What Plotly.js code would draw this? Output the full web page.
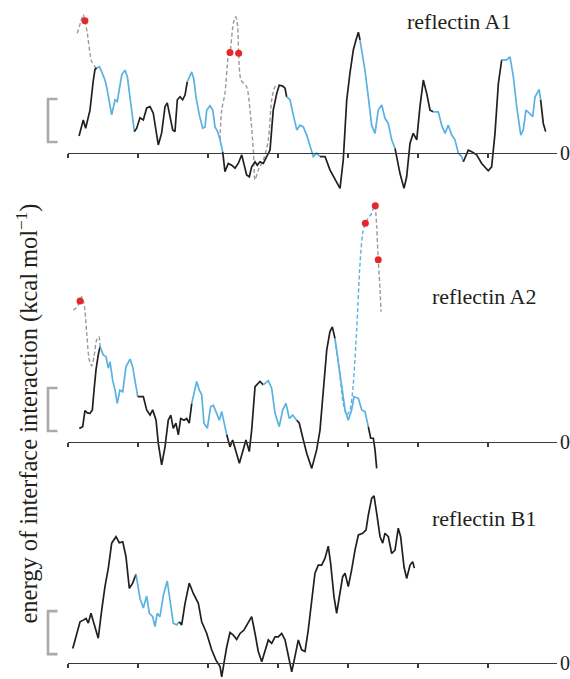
<!DOCTYPE html>
<html><head><meta charset="utf-8">
<script src="https://cdn.plot.ly/plotly-3.0.1.min.js"></script>
<style>html,body{margin:0;padding:0;background:#fff;}#chart{width:570px;height:679px;}</style>
</head><body><div id="chart"></div>
<script>
// ---- data (x: residue position, y: interface interaction energy, kcal/mol) ----
const panelNames = ["reflectin A1", "reflectin A2", "reflectin B1"];
const xTicks = [0, 50, 100, 150, 200, 250, 300];
const scaleBar = 10; // kcal/mol
const scaleBarBase = [2.5, 2.5, 2.0];

const a1X = [7.9,10.9,12.6,15.7,18.1,19.3,20.5,22.4,24.1,26.4,27.6,31.2,33.6,35.2,38.4,40.7,42.4,44.3,47.4,49.1,51.4,53.8,56.2,58.6,60.9,64.5,66.9,69.3,70.9,72.9,74.8,76.4,78.1,80,81.9,83.6,85.2,88.4,90,91.4,93.8,96.2,97.9,99.1,101.4,103.4,105,106.9,108.6,110.5,112.1,114.5,116.9,119.3,121.6,124.1,125.7,127.6,129.5,131.2,133.6,135.2,137.1,139.5,141.9,144.3,146.6,149.1,150.9,153.4,155,156.2,158.6,160.9,163.4,165.7,168.1,170.5,172.9,175.2,177.6,180,183.6,187.1,190.7,194.3,196.6,199.1,201.4,203.8,205.7,207.4,208.6,212.1,214.5,216.9,219.3,221.6,224.1,226.4,228.8,231.2,233.6,234.8,237.1,240,241.9,244.3,246.6,249.1,251.4,253.8,256.2,258.6,260.9,264.5,266.9,269.3,271.6,274.1,276.4,278.8,281.2,282.4,285.9,288.4,291.9,295.5,297.9,300.2,302.6,305,307.4,309.8,313.4,315.7,318.1,320.5,323.4,325.2,327.1,329.5,331.9,333.6,336.6,337.6,339.5,341.2];
const a1Y = [3.9,7.6,5.7,9.9,16.9,19.4,19.7,20.0,18.8,16.9,15.3,8.8,12.3,11.9,18.1,19.2,17.7,12.3,4.9,5.7,8.1,7.6,10.4,10.7,9.2,1.8,4.6,10.7,11.6,8.4,5.3,4.9,12.3,13.0,12.3,13.4,16.5,18.8,16.9,13.0,8.8,5.7,6.0,9.9,10.9,9.9,6.0,4.9,3.0,0.2,-4.4,-2.5,-2.9,-3.6,-2.5,-0.5,-2.9,-5.2,-5.6,-3.3,-2.1,-2.9,-2.1,-2.5,-0.9,0.6,9.9,13.8,15.7,15.5,15.0,13.0,12.3,8.8,5.3,6.4,6.0,4.1,1.4,-0.9,-0.1,-0.9,-0.9,-4.0,-6.3,-8.3,-1.7,12.3,18.5,23.9,26.2,28.0,26.2,19.2,13.0,6.4,4.5,9.9,11.1,8.0,6.8,3.0,1.0,-0.9,-4.8,-8.3,-5.6,2.2,4.5,3.0,10.7,16.9,13.8,9.9,9.5,9.5,6.4,4.5,6.4,4.1,3.0,-0.1,-0.9,-2.1,0.6,0.2,-0.5,-2.5,-3.3,-4.2,-3.3,4.5,16.1,21.6,21.6,22.3,17.7,10.7,4.1,5.3,9.9,9.2,8.4,13.0,14.7,12.3,6.8,4.9];
const a1Blue = [[20.5,47.4],[85.2,110.5],[156.2,180],[208.6,233.6],[260.9,282.4],[309.8,337.6]];
const a1AltAX = [6.6,8.1,10.9,12.1,13.8,15.7,16.9,19.3,20.5];
const a1AltAY = [27.8,29.3,32.1,30.7,27.8,23.1,21.2,20.0,19.7];
const a1AltBX = [108.6,109.8,112.1,114.5,115.7,118.1,119.8,121.2,121.9,123.6,127.6,130,132.4,133.6,135.9,139.5,143.1,145.5,147.9,150.9];
const a1AltBY = [3.0,9.9,13.8,22.3,23.3,30.1,31.6,29.3,23.1,16.9,15.3,9.9,0.6,-6.3,-4.0,-1.7,3.0,12.3,15.3,15.7];
const a1DotX = [12.1,115.7,121.9];
const a1DotY = [30.7,23.3,23.1];

const a2X = [8.1,10.5,12.1,13.8,15.7,17.4,18.6,20,21.6,22.9,25.2,27.1,28.8,30,31.9,33.6,35.2,37.1,39.1,41.4,44.3,46.2,47.9,49.8,53.8,56.2,58.6,60.5,62.9,64.5,66.9,69.3,71.6,73.4,75.2,77.1,78.8,80.5,82.9,84.8,86.6,88.4,91.9,93.8,95.5,97.1,99.5,101.9,103.8,106.2,108.1,109.8,111.4,113.4,115.7,117.6,120.5,122.4,124.8,127.1,129.5,131.2,133.6,137.1,139.5,143.1,145.5,147.9,150.9,153.4,155.7,158.1,160.5,163.4,165.2,168.1,170.5,174.1,177.6,180,182.4,184.8,187.1,188.8,190.7,193.1,195.5,197.9,200.2,202.6,204.3,207.4,209.8,212.1,214.5,216.2,218.1,219.3,220.5];
const a2Y = [3.1,3.5,7.2,6.7,6.6,7.4,12.0,16.7,20.2,22.1,20.2,19.8,17.1,18.6,14.3,12.0,8.9,12.0,11.6,17.4,19.2,17.4,14.3,10.5,10.5,7.4,6.2,7.4,5.0,-0.4,-5.4,-1.2,5.0,6.2,3.1,4.3,1.6,5.4,5.0,5.4,4.3,8.9,14.0,12.0,10.9,4.3,3.1,8.1,8.5,6.6,5.0,7.0,4.3,1.6,-1.2,0.4,-3.1,-5.0,-2.3,0.4,-2.3,2.7,12.8,14.0,13.2,14.2,12.4,6.6,3.5,7.4,8.9,5.4,6.2,5.0,4.3,0.4,-2.7,-6.2,-1.9,2.7,12.0,21.3,25.6,26.7,24.0,18.2,13.6,7.4,5.0,7.4,10.5,10.1,7.4,7.0,3.5,0.8,0.8,-1.9,-6.2];
const a2Blue = [[22.9,49.8],[88.4,113.4],[139.5,163.4],[190.7,214.5]];
const a2AltAX = [3.8,6.6,8.6,9.8,11.4,13.4,15.2,16.9,18.6,20.5,22.1,22.9];
const a2AltAY = [30.6,31.4,32.7,33.7,32.2,25.2,19.0,17.6,19.8,23.7,24.4,22.1];
const a2AltBlueX = [190.7,194.3,196.6,199.1,201.4,203.4,206.2,208.6,210.5,212.4,214.5,216.9,218.6,219.5];
const a2AltBlueY = [24.0,15.1,8.9,6.2,7.4,12.0,26.0,41.5,48.5,50.8,52.0,53.1,54.7,54.9];
const a2AltBX = [219.5,220.5,221.6,222.9,223.6];
const a2AltBY = [54.9,50.0,42.3,35.3,30.2];
const a2DotX = [8.6,212.4,219.5,221.6];
const a2DotY = [32.7,50.8,54.9,42.3];

const b1X = [3.4,6.2,8.6,10.9,12.9,14.5,16.4,18.8,21.6,24.1,26.4,28.8,31.2,34.3,36.6,39.1,41.4,43.8,46.2,48.6,51.4,53.8,56.2,58.1,60.5,62.1,63.8,65.7,68.1,70.9,72.9,75.2,77.6,79.5,81.2,83.6,86.6,89.5,93.1,95.5,99.1,102.6,105.7,108.6,109.8,111.4,113.4,115.7,118.1,120.5,122.9,125.7,128.8,131.2,133.6,135.9,138.4,140.7,143.1,145.5,147.9,150.2,152.6,155,157.4,159.8,162.1,164.5,166.9,169.3,171.6,174.1,176.4,178.8,181.2,183.6,185.9,187.6,190,191.9,193.8,196.2,197.9,200.2,202.6,205,207.4,210.5,212.9,214.5,216.9,218.6,220.5,222.9,224.8,226.4,228.8,231.2,233.6,235.9,237.6,240,241.9,244.3,246.2,247.4];
const b1Y = [3.3,6.8,9.5,9.9,10.3,9.2,11.5,8.8,5.7,12.3,17.7,22.0,27.8,29.3,27.9,28.1,24.7,17.3,18.5,20.6,15.0,12.7,15.5,11.5,10.7,8.4,11.5,10.7,15.7,19.0,14.6,9.2,8.8,9.5,8.8,13.8,18.5,16.1,13.8,9.5,6.8,3.0,0.6,-0.9,-3.3,-0.1,3.7,7.0,6.4,5.4,6.8,7.6,9.5,10.7,6.8,2.6,0.2,2.6,5.3,4.5,6.0,6.0,6.8,5.3,1.4,-2.1,1.4,5.3,3.0,2.6,7.6,15.3,20.8,22.7,22.7,24.3,27.1,23.1,15.3,11.5,15.3,20.0,20.8,17.7,21.6,26.2,29.7,30.1,30.9,34.3,38.2,38.8,34.7,29.3,27.8,30.1,29.3,25.4,26.2,31.3,29.3,22.3,19.6,22.7,23.5,22.0];
const b1Blue = [[48.6,79.5]];

// ---- styling ----
const BLACK = "#231f20", BLUE = "#5ab2e0", GREY = "#9a9a9a", RED = "#e6262b", AXIS = "#3a3a3a";
const FONT = "Liberation Serif, Times New Roman, serif";
const H = 679, W = 570;

// panel layout (pixel positions of each panel's zero line & extent), 4.3 px per kcal/mol
const pxPerUnit = 4.3;
const panels = [
  {zero: 152.7, top: 0, bottom: 198},
  {zero: 441.7, top: 198, bottom: 482},
  {zero: 662.7, top: 482, bottom: 679}
];
const xPx0 = 68, xPx1 = 557, pxPerRes = 1.4;

function splitColored(x, y, ranges, axX, axY) {
  const out = [];
  let cur = null;
  for (let i = 0; i < x.length - 1; i++) {
    const m = (x[i] + x[i + 1]) / 2;
    const blue = ranges.some(r => m >= r[0] && m <= r[1]);
    const col = blue ? BLUE : BLACK;
    if (!cur || cur.line.color !== col) {
      cur = {type: "scatter", mode: "lines", x: [x[i]], y: [y[i]], xaxis: axX, yaxis: axY,
             line: {color: col, width: 1.7, shape: "linear"}, hoverinfo: "skip"};
      out.push(cur);
    }
    cur.x.push(x[i + 1]); cur.y.push(y[i + 1]);
  }
  return out;
}
function dashed(x, y, col, axX, axY) {
  return {type: "scatter", mode: "lines", x, y, xaxis: axX, yaxis: axY,
          line: {color: col, width: 1.4, dash: "4px,2.5px", shape: "spline", smoothing: 0.8}, hoverinfo: "skip"};
}
function dots(x, y, axX, axY) {
  return {type: "scatter", mode: "markers", x, y, xaxis: axX, yaxis: axY,
          marker: {color: RED, size: 7}, hoverinfo: "skip", cliponaxis: false};
}

const traces = [];
traces.push(dashed(a1AltAX, a1AltAY, GREY, "x", "y"));
traces.push(dashed(a1AltBX, a1AltBY, GREY, "x", "y"));
traces.push(...splitColored(a1X, a1Y, a1Blue, "x", "y"));
traces.push(dots(a1DotX, a1DotY, "x", "y"));

traces.push(dashed(a2AltAX, a2AltAY, GREY, "x2", "y2"));
traces.push(dashed(a2AltBlueX, a2AltBlueY, BLUE, "x2", "y2"));
traces.push(dashed(a2AltBX, a2AltBY, GREY, "x2", "y2"));
traces.push(...splitColored(a2X, a2Y, a2Blue, "x2", "y2"));
traces.push(dots(a2DotX, a2DotY, "x2", "y2"));

traces.push(...splitColored(b1X, b1Y, b1Blue, "x3", "y3"));

const layout = {
  width: W, height: H, margin: {l: 0, r: 0, t: 0, b: 0},
  paper_bgcolor: "#ffffff", plot_bgcolor: "rgba(0,0,0,0)",
  showlegend: false, font: {family: FONT, color: BLACK},
  annotations: [], shapes: []
};
const xDom = [xPx0 / W, xPx1 / W];
const xRange = [0, (xPx1 - xPx0) / pxPerRes];
panels.forEach((p, i) => {
  const sfx = i === 0 ? "" : String(i + 1);
  const yRef = "y" + sfx;
  layout["xaxis" + sfx] = {
    domain: xDom, range: xRange, anchor: "free", position: (H - p.zero) / H,
    showline: true, linecolor: AXIS, linewidth: 1.4,
    ticks: "outside", ticklen: 4, tickwidth: 1.3, tickcolor: AXIS,
    tickmode: "array", tickvals: xTicks, showticklabels: false,
    showgrid: false, zeroline: false, fixedrange: true
  };
  layout["yaxis" + sfx] = {
    domain: [(H - p.bottom) / H, (H - p.top) / H],
    range: [(p.zero - p.bottom) / pxPerUnit, (p.zero - p.top) / pxPerUnit],
    anchor: "x" + sfx, visible: false, showgrid: false, zeroline: false, fixedrange: true
  };
  layout.annotations.push({text: "0", xref: "paper", yref: yRef, x: (xPx1 + 0.5) / W, y: 0,
    xanchor: "left", yanchor: "middle", showarrow: false, font: {family: FONT, size: 20, color: BLACK}});
  const b0 = scaleBarBase[i], b1 = b0 + scaleBar, xa = 48 / W, xb = 57.5 / W;
  layout.shapes.push({type: "path", xref: "paper", yref: yRef,
    path: `M ${xb},${b1} L ${xa},${b1} L ${xa},${b0} L ${xb},${b0}`,
    line: {color: "#aaaaaa", width: 2.6}});
});
const labelPos = [[405, 22], [430, 296.5], [430, 518.5]];
panelNames.forEach((n, i) => {
  layout.annotations.push({text: n, xref: "paper", yref: "paper",
    x: labelPos[i][0] / W, y: 1 - labelPos[i][1] / H, xanchor: "left", yanchor: "middle",
    showarrow: false, font: {family: FONT, size: 22, color: BLACK}});
});
layout.annotations.push({text: "energy of interface interaction (kcal\u2009mol<sup>\u22121</sup>)",
  xref: "paper", yref: "paper", x: 27 / W, y: 1 - 413.5 / H, xanchor: "center", yanchor: "middle",
  textangle: -90, showarrow: false, font: {family: FONT, size: 24.5, color: BLACK}});

Plotly.newPlot("chart", traces, layout, {staticPlot: true, displayModeBar: false});
</script></body></html>
